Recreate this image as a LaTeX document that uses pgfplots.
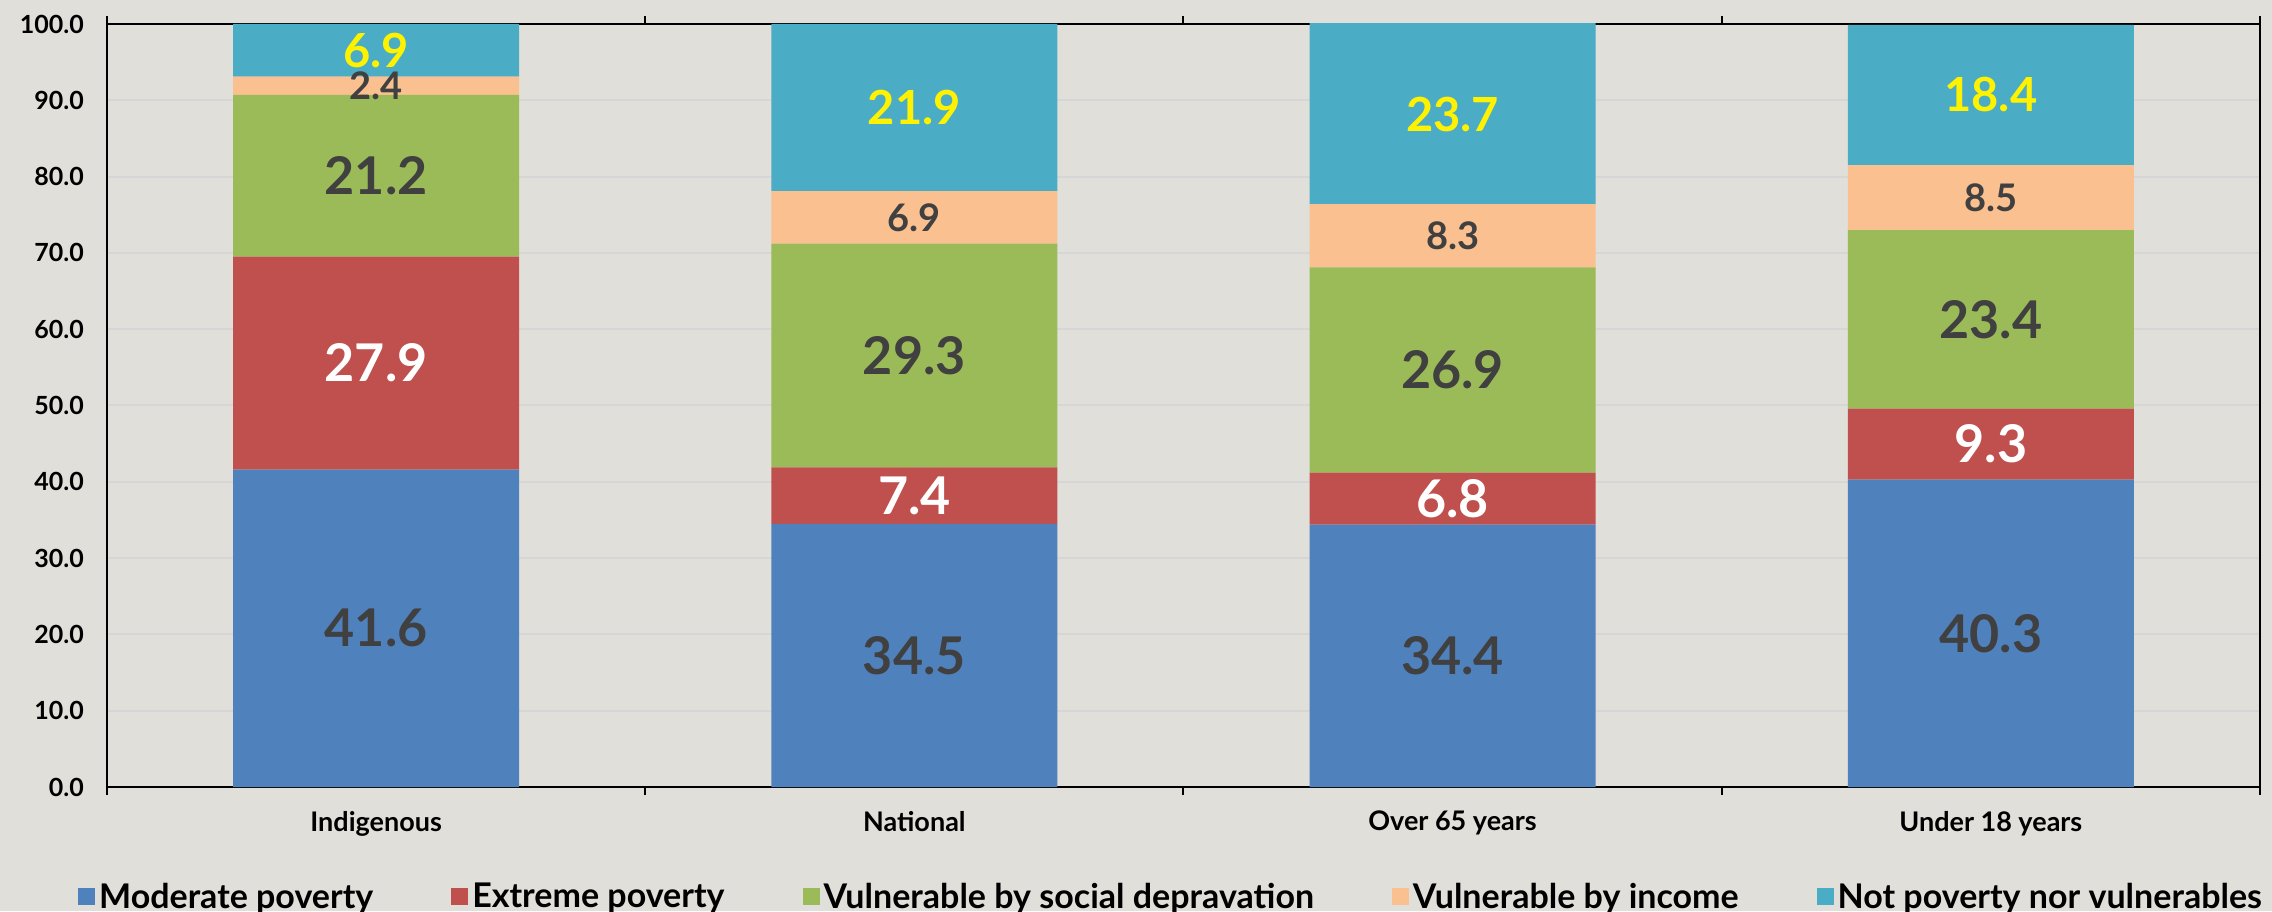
\documentclass[border=0pt]{standalone}
\usepackage{fontspec}
\setmainfont{Lato}
\usepackage{pgfplots}
\usepackage{pgfplotstable}
\pgfplotsset{compat=1.18}
\definecolor{bg}{HTML}{E1DFD9}
\definecolor{cMod}{HTML}{4F81BD}
\definecolor{cExt}{HTML}{C0504D}
\definecolor{cSoc}{HTML}{9BBB59}
\definecolor{cInc}{HTML}{FAC090}
\definecolor{cNot}{HTML}{4BACC6}
\definecolor{lab}{HTML}{404040}
\definecolor{gridc}{HTML}{D6D6D6}
\pgfplotstableread{
x mod ext soc inc not
0 41.6 27.9 21.2 2.4 6.9
1 34.5 7.4 29.3 6.9 21.9
2 34.4 6.8 26.9 8.3 23.7
3 40.3 9.3 23.4 8.5 18.4
}\data
\newcommand\fs[1]{\fontsize{#1}{#1}\selectfont}
\pgfplotsset{
  lg/.style={legend image code/.code={\fill[##1] (0pt,-4.25pt) rectangle (8.5pt,4.25pt);}},
  geom/.style={at={(53.5pt,62pt)}, anchor=south west, scale only axis,
    width=1076.5pt, height=381.5pt, xmin=-0.5, xmax=3.5, ymin=0, ymax=100},
  lbl/.style={only marks, mark=*, mark size=0pt, mark options={draw=none, fill=none},
    every node near coord/.append style={anchor=center, inner sep=0pt, text=#1}},
}
\begin{document}
\begin{tikzpicture}
\fill[bg] (0,0) rectangle (1136pt,455.5pt);
\begin{axis}[
  geom,
  ybar stacked, bar width=143pt,
  xtick={-0.5,0.5,1.5,2.5,3.5},
  xticklabels={Indigenous,National,Over 65 years,Under 18 years},
  x tick label as interval,
  tick align=outside,
  major tick length=4pt,
  x tick style={black, line width=1pt},
  y tick style={draw=none},
  ytick={0,10,...,100},
  /pgf/number format/assume math mode=true,
  xticklabel style={yshift=-4.5pt, font=\bfseries\fs{13.5}, text=black},
  yticklabel style={xshift=-4pt, font=\bfseries\fs{12.5}, text=black, /pgf/number format/.cd, fixed, fixed zerofill, precision=1},
  ymajorgrids, grid style={gridc, line width=1pt},
  axis line style={black, line width=1pt},
  legend columns=5,
  legend style={draw=none, fill=none, at={(0.4947,-0.144)}, anchor=center, font=\bfseries\fs{17}, /tikz/every even column/.append style={column sep=37pt}},
]
\addplot[fill=cMod, draw=none, lg] table[x=x,y=mod]{\data};
\addlegendentry{Moderate poverty}
\addplot[fill=cExt, draw=none, lg] table[x=x,y=ext]{\data};
\addlegendentry{Extreme poverty}
\addplot[fill=cSoc, draw=none, lg] table[x=x,y=soc]{\data};
\addlegendentry{Vulnerable by social depravation}
\addplot[fill=cInc, draw=none, lg] table[x=x,y=inc]{\data};
\addlegendentry{Vulnerable by income}
\addplot[fill=cNot, draw=none, lg] table[x=x,y=not]{\data};
\addlegendentry{Not poverty nor vulnerables}
\end{axis}
\begin{axis}[
  geom, hide axis, clip=false,
  point meta=explicit,
  nodes near coords={\pgfmathprintnumber[fixed,fixed zerofill,precision=1,assume math mode=true]{\pgfplotspointmeta}},
]
\addplot[lbl=lab, every node near coord/.append style={font=\bfseries\fs{26}}]
  table[x=x, y expr=\thisrow{mod}/2, meta=mod]{\data};
\addplot[lbl=white, every node near coord/.append style={font=\bfseries\fs{26}}]
  table[x=x, y expr=\thisrow{mod}+\thisrow{ext}/2, meta=ext]{\data};
\addplot[lbl=lab, every node near coord/.append style={font=\bfseries\fs{26}}]
  table[x=x, y expr=\thisrow{mod}+\thisrow{ext}+\thisrow{soc}/2, meta=soc]{\data};
\addplot[lbl=lab, every node near coord/.append style={font=\bfseries\fs{19}}]
  table[x=x, y expr=\thisrow{mod}+\thisrow{ext}+\thisrow{soc}+\thisrow{inc}/2, meta=inc]{\data};
\addplot[lbl=yellow, every node near coord/.append style={font=\bfseries\fs{23.5}}]
  table[x=x, y expr={(\thisrow{mod}+\thisrow{ext}+\thisrow{soc}+\thisrow{inc}+100)/2}, meta=not]{\data};
\end{axis}
\pgfresetboundingbox
\path[use as bounding box] (0,0) rectangle (1136pt,455.5pt);
\end{tikzpicture}
\end{document}
